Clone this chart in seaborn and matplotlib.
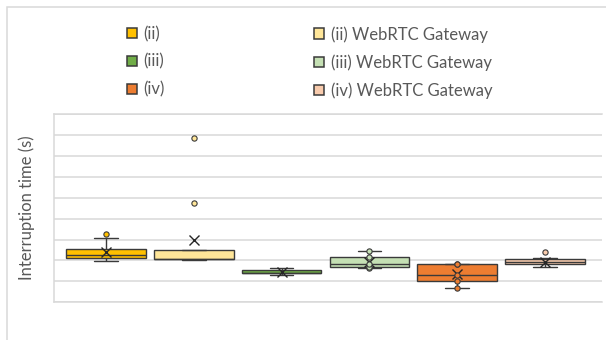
import matplotlib
matplotlib.use("Agg")
import matplotlib.pyplot as plt
from matplotlib.patches import Patch, Rectangle
import pandas as pd
import seaborn as sns

# Series names and per-series interruption samples (seconds)
series = ["(ii)", "(ii) WebRTC Gateway", "(iii)", "(iii) WebRTC Gateway",
          "(iv)", "(iv) WebRTC Gateway"]
samples_ii = [1.97, 2.05, 2.10, 2.18, 2.24, 2.37, 2.53, 3.06, 3.28]
samples_ii_gw = [2.01, 2.03, 2.055, 2.055, 2.08, 2.08, 2.51, 2.51, 4.75, 7.87]
samples_iii = [1.29, 1.386, 1.40, 1.53, 1.654]
samples_iii_gw = [1.625, 1.702, 1.816, 2.151, 2.452]
samples_iv = [0.669, 1.033, 1.291, 1.816, 1.845]
samples_iv_gw = [1.687, 1.70, 1.84, 1.85, 1.941, 1.95, 2.055, 2.132, 2.39]
all_samples = [samples_ii, samples_ii_gw, samples_iii, samples_iii_gw,
               samples_iv, samples_iv_gw]

# Series whose individual points are also drawn
show_points = ["(iii) WebRTC Gateway", "(iv)"]

colors = ["#FFC000", "#FFE699", "#70AD47", "#C5E0B4", "#ED7D31", "#F8CBAD"]
y_ticks = list(range(10))

df = pd.DataFrame(
    [(name, v) for name, vals in zip(series, all_samples) for v in vals],
    columns=["series", "time"],
)

sns.set_theme(style="white")
plt.rcParams["font.family"] = ["Lato", "DejaVu Sans"]

edge = "#3A3A3A"
grid_col = "#D9D9D9"
text_col = "#595959"

fig = plt.figure(figsize=(6.06, 3.4), dpi=100)
fig.patch.set_facecolor("white")
ax = fig.add_axes([54 / 606, 1 - 302.3 / 340, (601.7 - 54) / 606, (302.3 - 114) / 340])

for name, col in zip(series, colors):
    sub = df[df["series"] == name]
    sns.boxplot(
        data=sub, x="series", y="time", order=series, ax=ax,
        color=col, saturation=1, width=0.905, linecolor=edge, linewidth=1.0,
        capwidths=0.27,
        showmeans=True,
        meanprops=dict(marker="x", markeredgecolor="#262626",
                       markerfacecolor="none", markersize=6.5,
                       markeredgewidth=1.0),
        flierprops=dict(marker="o", markersize=3.8, markerfacecolor=col,
                        markeredgecolor=edge, markeredgewidth=0.8),
    )
    if name in show_points:
        sns.stripplot(
            data=sub, x="series", y="time", order=series, ax=ax,
            jitter=False, color=col, edgecolor=edge, linewidth=0.8,
            size=3.8, zorder=5,
        )

ax.set_xlim(-0.592, 5.646)
ax.set_ylim(0, 9)
ax.set_yticks(y_ticks)
ax.set_yticklabels([])
ax.set_xticks([])
ax.set_xlabel("")
ax.set_ylabel("")
ax.tick_params(length=0)
ax.set_axisbelow(True)
ax.yaxis.grid(True, color=grid_col, linewidth=1.1)
ax.xaxis.grid(False)
for side in ["left", "bottom", "top"]:
    ax.spines[side].set_color(grid_col)
    ax.spines[side].set_linewidth(1.1)
ax.spines["right"].set_visible(False)
ax.set_facecolor("white")

# Outer chart frame
fig.patches.append(Rectangle((7 / 606, -0.2), 1.2, 1.2 - 7 / 340,
                             transform=fig.transFigure, fill=False,
                             edgecolor=grid_col, linewidth=1.1))

fig.text(27 / 606, 1 - 207.5 / 340, "Interruption time (s)", rotation=90,
         ha="center", va="center", color=text_col, fontsize=12)

handles = [Patch(facecolor=c, edgecolor=edge, linewidth=1.1) for c in colors]
leg_kw = dict(loc="upper left", frameon=False, fontsize=12,
              handlelength=0.58, handleheight=0.58, handletextpad=0.42,
              labelspacing=0.7, borderpad=0, borderaxespad=0,
              labelcolor=text_col)
fig.legend(handles[0::2], series[0::2],
           bbox_to_anchor=(127 / 606, 1 - 26 / 340), **leg_kw)
fig.legend(handles[1::2], series[1::2],
           bbox_to_anchor=(314 / 606, 1 - 26 / 340), **leg_kw)

fig.savefig("out.png", dpi=100, facecolor="white")
